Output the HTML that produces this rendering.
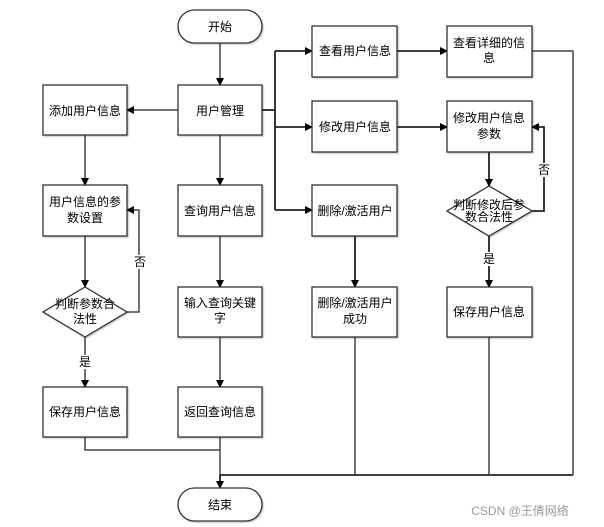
<!DOCTYPE html>
<html><head><meta charset="utf-8"><style>
html,body{margin:0;padding:0;background:#fff;}
svg{display:block;}
text{font-family:"Liberation Sans","Noto Sans CJK SC",sans-serif;font-size:12px;fill:#000;text-anchor:middle;}
.b{fill:#fff;stroke:#333;stroke-width:1.3;}
.l{stroke:#444;stroke-width:1.5;fill:none;}
.k{stroke:#222;stroke-width:1.8;fill:none;}
</style></head><body>
<svg width="604" height="527" viewBox="0 0 604 527" xmlns="http://www.w3.org/2000/svg">
<defs>
<marker id="a" markerWidth="8" markerHeight="8" refX="7" refY="4" orient="auto" markerUnits="userSpaceOnUse">
<path d="M0,0 L8,4 L0,8 z" fill="#000"/></marker>
<filter id="s"><feDropShadow dx="1" dy="1" stdDeviation="0.8" flood-color="#000" flood-opacity="0.25"/></filter>
</defs>
<g class="l">
<line x1="220" y1="43" x2="220" y2="85" marker-end="url(#a)"/>
<line x1="178" y1="110" x2="127" y2="110" marker-end="url(#a)"/>
<line x1="85" y1="135" x2="85" y2="185" marker-end="url(#a)"/>
<line x1="85" y1="236" x2="85" y2="287" marker-end="url(#a)"/>
<polyline points="127,312 139,312 139,210 127,210" marker-end="url(#a)"/>
<line x1="85" y1="337" x2="85" y2="387" marker-end="url(#a)"/>
<line x1="220" y1="135" x2="220" y2="185" marker-end="url(#a)"/>
<line x1="220" y1="236" x2="220" y2="287" marker-end="url(#a)"/>
<line x1="220" y1="337" x2="220" y2="387" marker-end="url(#a)"/>
<polyline points="85,437 85,450 220,450"/>
<line x1="220" y1="437" x2="220" y2="475"/>
</g>
<g class="k">
<polyline points="262,110 275,110"/>
<line x1="275" y1="51" x2="275" y2="210"/>
<line x1="275" y1="51" x2="312" y2="51" marker-end="url(#a)"/>
<line x1="275" y1="127" x2="312" y2="127" marker-end="url(#a)"/>
<line x1="275" y1="210" x2="312" y2="210" marker-end="url(#a)"/>
<line x1="397" y1="51" x2="447" y2="51" marker-end="url(#a)"/>
<line x1="397" y1="127" x2="447" y2="127" marker-end="url(#a)"/>
<line x1="489" y1="152" x2="489" y2="186" marker-end="url(#a)"/>
<polyline points="532,211 544,211 544,127 532,127" marker-end="url(#a)"/>
<line x1="489" y1="236" x2="489" y2="287" marker-end="url(#a)"/>
<line x1="355" y1="236" x2="355" y2="287" marker-end="url(#a)"/>
<line x1="220" y1="475" x2="573" y2="475"/>
<line x1="220" y1="475" x2="220" y2="488" marker-end="url(#a)"/>
</g>
<g class="l">
<line x1="355" y1="337" x2="355" y2="475"/>
<line x1="489" y1="337" x2="489" y2="475"/>
<polyline points="532,51 573,51 573,475"/>
</g>
<g filter="url(#s)">
<rect class="b" x="178" y="10" width="84" height="33" rx="16.5"/>
<rect class="b" x="178" y="488" width="84" height="33" rx="16.5"/>
<rect class="b" x="178" y="85" width="84" height="50"/>
<rect class="b" x="43" y="85" width="84" height="50"/>
<rect class="b" x="43" y="185" width="84" height="51"/>
<polygon class="b" points="85,287 127,312 85,337 43,312"/>
<rect class="b" x="43" y="387" width="84" height="50"/>
<rect class="b" x="178" y="185" width="84" height="51"/>
<rect class="b" x="178" y="287" width="84" height="50"/>
<rect class="b" x="178" y="387" width="84" height="50"/>
<rect class="b" x="312" y="26" width="85" height="51"/>
<rect class="b" x="312" y="101" width="85" height="51"/>
<rect class="b" x="312" y="185" width="85" height="51"/>
<rect class="b" x="312" y="287" width="85" height="50"/>
<rect class="b" x="447" y="26" width="85" height="51"/>
<rect class="b" x="447" y="101" width="85" height="51"/>
<polygon class="b" points="489,186 532,211 489,236 447,211"/>
<rect class="b" x="447" y="287" width="85" height="50"/>
</g>
<text x="220" y="31">开始</text>
<text x="220" y="509">结束</text>
<text x="220" y="115">用户管理</text>
<text x="85" y="115">添加用户信息</text>
<text x="85" y="206">用户信息的参</text><text x="85" y="222">数设置</text>
<text x="85" y="308" font-size="11">判断参数合</text><text x="85" y="323" font-size="11">法性</text>
<text x="85" y="416">保存用户信息</text>
<text x="220" y="215">查询用户信息</text>
<text x="220" y="307">输入查询关键</text><text x="220" y="322">字</text>
<text x="220" y="416">返回查询信息</text>
<text x="355" y="55">查看用户信息</text>
<text x="355" y="131">修改用户信息</text>
<text x="355" y="215">删除/激活用户</text>
<text x="355" y="307">删除/激活用户</text><text x="355" y="323">成功</text>
<text x="489" y="47">查看详细的信</text><text x="489" y="62">息</text>
<text x="489" y="122">修改用户信息</text><text x="489" y="138">参数</text>
<text x="489" y="209" font-size="10">判断修改后参</text><text x="489" y="221" font-size="10">数合法性</text>
<text x="489" y="316">保存用户信息</text>
<rect x="134" y="255" width="12" height="14" fill="#fff"/><text x="140" y="266" font-size="10">否</text>
<rect x="538" y="163" width="12" height="14" fill="#fff"/><text x="544" y="174" font-size="10">否</text>
<rect x="79" y="355" width="12" height="14" fill="#fff"/><text x="85" y="366" font-size="10">是</text>
<rect x="483" y="252" width="12" height="14" fill="#fff"/><text x="489" y="263" font-size="10">是</text>
<text x="520" y="515" font-size="16" style="fill:#999">CSDN @王倩网络</text>
</svg>
</body></html>
